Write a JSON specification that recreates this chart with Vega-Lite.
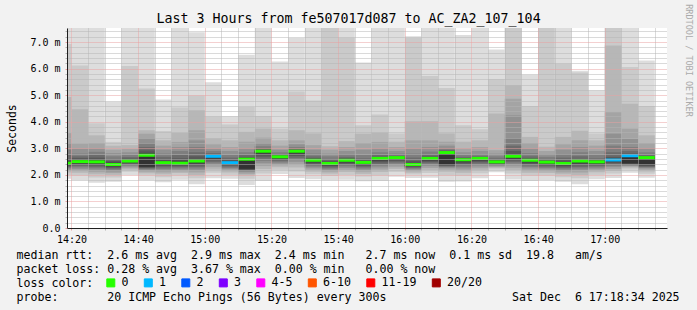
{
  "$schema": "https://vega.github.io/schema/vega-lite/v6.json",
  "width": 600,
  "height": 200,
  "autosize": "none",
  "padding": {"left": 67, "top": 28, "right": 30, "bottom": 82},
  "background": "#f2f2f2",
  "view": {"fill": "white", "stroke": null},
  "config": {"font": "DejaVu Sans Mono"},
  "title": {"text": "Last 3 Hours from fe507017d087 to AC_ZA2_107_104", "font": "DejaVu Sans Mono", "fontSize": 13.3, "fontWeight": "normal", "color": "black", "anchor": "middle", "dx": -18.5, "dy": 26, "offset": 4},
  "data": {"values": [
    {"t":"2025-12-06T14:15:00Z","t2":"2025-12-06T14:20:00Z","med":2.44,"loss":"0","p1":1.85,"p2":2.00,"p3":2.09,"p4":2.15,"p5":2.20,"p6":2.25,"p7":2.29,"p8":2.33,"p9":2.37,"p10":2.40,"p11":2.48,"p12":2.52,"p13":2.60,"p14":2.75,"p15":2.95,"p16":3.20,"p17":3.57,"p18":4.93,"p19":6.93,"p20":7.60},
    {"t":"2025-12-06T14:20:00Z","t2":"2025-12-06T14:25:00Z","med":2.50,"loss":"0","p1":1.80,"p2":1.98,"p3":2.08,"p4":2.15,"p5":2.22,"p6":2.28,"p7":2.33,"p8":2.37,"p9":2.42,"p10":2.46,"p11":2.55,"p12":2.58,"p13":2.63,"p14":2.70,"p15":2.80,"p16":2.99,"p17":3.18,"p18":4.47,"p19":6.12,"p20":7.60},
    {"t":"2025-12-06T14:25:00Z","t2":"2025-12-06T14:30:00Z","med":2.49,"loss":"0","p1":1.70,"p2":1.90,"p3":2.02,"p4":2.10,"p5":2.17,"p6":2.24,"p7":2.29,"p8":2.35,"p9":2.40,"p10":2.44,"p11":2.52,"p12":2.58,"p13":2.65,"p14":2.75,"p15":2.87,"p16":3.00,"p17":3.20,"p18":3.49,"p19":3.94,"p20":7.55},
    {"t":"2025-12-06T14:30:00Z","t2":"2025-12-06T14:35:00Z","med":2.39,"loss":"0","p1":1.74,"p2":1.90,"p3":2.00,"p4":2.07,"p5":2.13,"p6":2.18,"p7":2.23,"p8":2.27,"p9":2.31,"p10":2.35,"p11":2.42,"p12":2.47,"p13":2.52,"p14":2.60,"p15":2.70,"p16":2.82,"p17":2.95,"p18":3.10,"p19":3.24,"p20":4.75},
    {"t":"2025-12-06T14:35:00Z","t2":"2025-12-06T14:40:00Z","med":2.52,"loss":"0","p1":1.99,"p2":2.12,"p3":2.20,"p4":2.25,"p5":2.31,"p6":2.35,"p7":2.39,"p8":2.42,"p9":2.46,"p10":2.49,"p11":2.54,"p12":2.57,"p13":2.61,"p14":2.67,"p15":2.75,"p16":2.85,"p17":2.98,"p18":3.12,"p19":6.10,"p20":7.60},
    {"t":"2025-12-06T14:40:00Z","t2":"2025-12-06T14:45:00Z","med":2.74,"loss":"0","p1":1.80,"p2":1.98,"p3":2.06,"p4":2.12,"p5":2.17,"p6":2.21,"p7":2.24,"p8":2.27,"p9":2.29,"p10":2.31,"p11":2.78,"p12":2.83,"p13":2.92,"p14":3.05,"p15":3.20,"p16":3.38,"p17":3.55,"p18":3.68,"p19":5.25,"p20":7.60},
    {"t":"2025-12-06T14:45:00Z","t2":"2025-12-06T14:50:00Z","med":2.46,"loss":"0","p1":1.72,"p2":1.91,"p3":2.02,"p4":2.09,"p5":2.16,"p6":2.22,"p7":2.28,"p8":2.33,"p9":2.37,"p10":2.42,"p11":2.49,"p12":2.53,"p13":2.60,"p14":2.68,"p15":2.80,"p16":2.95,"p17":3.10,"p18":3.30,"p19":3.65,"p20":4.84},
    {"t":"2025-12-06T14:50:00Z","t2":"2025-12-06T14:55:00Z","med":2.44,"loss":"0","p1":1.82,"p2":1.98,"p3":2.07,"p4":2.13,"p5":2.19,"p6":2.24,"p7":2.29,"p8":2.33,"p9":2.37,"p10":2.40,"p11":2.48,"p12":2.54,"p13":2.62,"p14":2.75,"p15":2.90,"p16":3.05,"p17":3.24,"p18":3.58,"p19":4.54,"p20":7.60},
    {"t":"2025-12-06T14:55:00Z","t2":"2025-12-06T15:00:00Z","med":2.52,"loss":"0","p1":1.65,"p2":1.87,"p3":2.00,"p4":2.09,"p5":2.17,"p6":2.24,"p7":2.30,"p8":2.36,"p9":2.42,"p10":2.47,"p11":2.55,"p12":2.60,"p13":2.70,"p14":2.85,"p15":3.05,"p16":3.30,"p17":3.68,"p18":4.43,"p19":4.99,"p20":7.37},
    {"t":"2025-12-06T15:00:00Z","t2":"2025-12-06T15:05:00Z","med":2.70,"loss":"1","p1":1.87,"p2":2.08,"p3":2.20,"p4":2.29,"p5":2.37,"p6":2.43,"p7":2.49,"p8":2.55,"p9":2.60,"p10":2.65,"p11":2.72,"p12":2.74,"p13":2.77,"p14":2.82,"p15":2.90,"p16":3.00,"p17":3.15,"p18":3.37,"p19":4.20,"p20":5.49},
    {"t":"2025-12-06T15:05:00Z","t2":"2025-12-06T15:10:00Z","med":2.46,"loss":"1","p1":1.85,"p2":2.00,"p3":2.09,"p4":2.16,"p5":2.22,"p6":2.26,"p7":2.31,"p8":2.35,"p9":2.39,"p10":2.42,"p11":2.49,"p12":2.52,"p13":2.57,"p14":2.65,"p15":2.75,"p16":2.90,"p17":3.05,"p18":3.30,"p19":3.90,"p20":4.21},
    {"t":"2025-12-06T15:10:00Z","t2":"2025-12-06T15:15:00Z","med":2.59,"loss":"0","p1":1.62,"p2":1.85,"p3":1.97,"p4":2.04,"p5":2.10,"p6":2.14,"p7":2.17,"p8":2.19,"p9":2.21,"p10":2.23,"p11":2.61,"p12":2.63,"p13":2.68,"p14":2.75,"p15":2.85,"p16":3.00,"p17":3.25,"p18":3.62,"p19":4.56,"p20":6.52},
    {"t":"2025-12-06T15:15:00Z","t2":"2025-12-06T15:20:00Z","med":2.89,"loss":"0","p1":1.77,"p2":2.05,"p3":2.22,"p4":2.33,"p5":2.44,"p6":2.53,"p7":2.61,"p8":2.69,"p9":2.76,"p10":2.82,"p11":2.90,"p12":2.92,"p13":2.95,"p14":3.00,"p15":3.08,"p16":3.20,"p17":3.40,"p18":3.74,"p19":4.22,"p20":7.55},
    {"t":"2025-12-06T15:20:00Z","t2":"2025-12-06T15:25:00Z","med":2.68,"loss":"0","p1":2.03,"p2":2.19,"p3":2.29,"p4":2.36,"p5":2.42,"p6":2.47,"p7":2.52,"p8":2.56,"p9":2.60,"p10":2.64,"p11":2.69,"p12":2.71,"p13":2.74,"p14":2.78,"p15":2.85,"p16":2.95,"p17":3.10,"p18":3.30,"p19":3.74,"p20":6.27},
    {"t":"2025-12-06T15:25:00Z","t2":"2025-12-06T15:30:00Z","med":2.89,"loss":"0","p1":1.88,"p2":2.13,"p3":2.28,"p4":2.39,"p5":2.49,"p6":2.57,"p7":2.64,"p8":2.71,"p9":2.77,"p10":2.83,"p11":2.90,"p12":2.92,"p13":2.94,"p14":2.98,"p15":3.05,"p16":3.15,"p17":3.30,"p18":3.68,"p19":5.14,"p20":7.15},
    {"t":"2025-12-06T15:30:00Z","t2":"2025-12-06T15:35:00Z","med":2.55,"loss":"0","p1":1.84,"p2":2.02,"p3":2.12,"p4":2.20,"p5":2.27,"p6":2.32,"p7":2.37,"p8":2.42,"p9":2.46,"p10":2.51,"p11":2.57,"p12":2.59,"p13":2.63,"p14":2.70,"p15":2.80,"p16":2.95,"p17":3.12,"p18":3.56,"p19":4.80,"p20":7.60},
    {"t":"2025-12-06T15:35:00Z","t2":"2025-12-06T15:40:00Z","med":2.43,"loss":"0","p1":1.80,"p2":1.96,"p3":2.05,"p4":2.12,"p5":2.18,"p6":2.23,"p7":2.27,"p8":2.32,"p9":2.35,"p10":2.39,"p11":2.45,"p12":2.48,"p13":2.53,"p14":2.60,"p15":2.70,"p16":2.80,"p17":2.95,"p18":3.08,"p19":7.55,"p20":7.60},
    {"t":"2025-12-06T15:40:00Z","t2":"2025-12-06T15:45:00Z","med":2.55,"loss":"0","p1":1.82,"p2":2.00,"p3":2.11,"p4":2.19,"p5":2.26,"p6":2.32,"p7":2.37,"p8":2.42,"p9":2.46,"p10":2.51,"p11":2.56,"p12":2.58,"p13":2.62,"p14":2.68,"p15":2.78,"p16":2.90,"p17":3.05,"p18":3.27,"p19":7.16,"p20":7.60},
    {"t":"2025-12-06T15:45:00Z","t2":"2025-12-06T15:50:00Z","med":2.47,"loss":"0","p1":1.76,"p2":1.94,"p3":2.04,"p4":2.12,"p5":2.19,"p6":2.24,"p7":2.29,"p8":2.34,"p9":2.38,"p10":2.43,"p11":2.49,"p12":2.51,"p13":2.55,"p14":2.62,"p15":2.75,"p16":2.95,"p17":3.20,"p18":3.55,"p19":3.87,"p20":6.23},
    {"t":"2025-12-06T15:50:00Z","t2":"2025-12-06T15:55:00Z","med":2.62,"loss":"0","p1":1.77,"p2":1.98,"p3":2.11,"p4":2.20,"p5":2.28,"p6":2.35,"p7":2.41,"p8":2.47,"p9":2.52,"p10":2.57,"p11":2.63,"p12":2.65,"p13":2.68,"p14":2.75,"p15":2.85,"p16":3.00,"p17":3.24,"p18":3.59,"p19":4.27,"p20":7.60},
    {"t":"2025-12-06T15:55:00Z","t2":"2025-12-06T16:00:00Z","med":2.65,"loss":"0","p1":1.93,"p2":2.11,"p3":2.22,"p4":2.29,"p5":2.36,"p6":2.42,"p7":2.47,"p8":2.52,"p9":2.56,"p10":2.61,"p11":2.66,"p12":2.67,"p13":2.69,"p14":2.73,"p15":2.80,"p16":2.90,"p17":3.05,"p18":3.25,"p19":3.56,"p20":7.60},
    {"t":"2025-12-06T16:00:00Z","t2":"2025-12-06T16:05:00Z","med":2.39,"loss":"0","p1":1.88,"p2":2.01,"p3":2.08,"p4":2.14,"p5":2.19,"p6":2.23,"p7":2.26,"p8":2.30,"p9":2.33,"p10":2.36,"p11":2.41,"p12":2.45,"p13":2.53,"p14":2.65,"p15":2.80,"p16":3.00,"p17":3.30,"p18":4.02,"p19":7.15,"p20":7.22},
    {"t":"2025-12-06T16:05:00Z","t2":"2025-12-06T16:10:00Z","med":2.62,"loss":"0","p1":1.89,"p2":2.07,"p3":2.18,"p4":2.26,"p5":2.33,"p6":2.39,"p7":2.44,"p8":2.49,"p9":2.53,"p10":2.58,"p11":2.63,"p12":2.65,"p13":2.69,"p14":2.76,"p15":2.88,"p16":3.05,"p17":3.30,"p18":4.02,"p19":5.72,"p20":7.60},
    {"t":"2025-12-06T16:10:00Z","t2":"2025-12-06T16:15:00Z","med":2.84,"loss":"0","p1":1.74,"p2":1.98,"p3":2.12,"p4":2.20,"p5":2.26,"p6":2.30,"p7":2.33,"p8":2.35,"p9":2.37,"p10":2.39,"p11":2.86,"p12":2.87,"p13":2.90,"p14":2.94,"p15":3.00,"p16":3.10,"p17":3.25,"p18":3.56,"p19":5.27,"p20":7.60},
    {"t":"2025-12-06T16:15:00Z","t2":"2025-12-06T16:20:00Z","med":2.57,"loss":"0","p1":1.75,"p2":1.96,"p3":2.08,"p4":2.16,"p5":2.24,"p6":2.31,"p7":2.37,"p8":2.42,"p9":2.47,"p10":2.52,"p11":2.58,"p12":2.59,"p13":2.62,"p14":2.68,"p15":2.75,"p16":2.85,"p17":3.00,"p18":3.25,"p19":3.87,"p20":7.27},
    {"t":"2025-12-06T16:20:00Z","t2":"2025-12-06T16:25:00Z","med":2.62,"loss":"0","p1":1.87,"p2":2.06,"p3":2.17,"p4":2.25,"p5":2.32,"p6":2.38,"p7":2.43,"p8":2.49,"p9":2.53,"p10":2.58,"p11":2.63,"p12":2.64,"p13":2.66,"p14":2.70,"p15":2.78,"p16":2.90,"p17":3.05,"p18":3.30,"p19":3.72,"p20":7.60},
    {"t":"2025-12-06T16:25:00Z","t2":"2025-12-06T16:30:00Z","med":2.49,"loss":"0","p1":2.10,"p2":2.20,"p3":2.26,"p4":2.30,"p5":2.33,"p6":2.37,"p7":2.39,"p8":2.42,"p9":2.44,"p10":2.47,"p11":2.51,"p12":2.53,"p13":2.56,"p14":2.62,"p15":2.70,"p16":2.80,"p17":2.93,"p18":4.31,"p19":5.60,"p20":6.72},
    {"t":"2025-12-06T16:30:00Z","t2":"2025-12-06T16:35:00Z","med":2.70,"loss":"0","p1":1.83,"p2":2.05,"p3":2.18,"p4":2.27,"p5":2.35,"p6":2.42,"p7":2.48,"p8":2.54,"p9":2.60,"p10":2.65,"p11":2.73,"p12":2.78,"p13":2.90,"p14":3.10,"p15":3.38,"p16":4.24,"p17":4.87,"p18":5.37,"p19":7.55,"p20":7.60},
    {"t":"2025-12-06T16:35:00Z","t2":"2025-12-06T16:40:00Z","med":2.55,"loss":"0","p1":1.77,"p2":1.97,"p3":2.08,"p4":2.16,"p5":2.24,"p6":2.30,"p7":2.36,"p8":2.41,"p9":2.46,"p10":2.50,"p11":2.56,"p12":2.58,"p13":2.62,"p14":2.70,"p15":2.82,"p16":3.00,"p17":3.20,"p18":3.43,"p19":4.59,"p20":5.77},
    {"t":"2025-12-06T16:40:00Z","t2":"2025-12-06T16:45:00Z","med":2.48,"loss":"0","p1":1.80,"p2":1.97,"p3":2.07,"p4":2.14,"p5":2.21,"p6":2.26,"p7":2.31,"p8":2.36,"p9":2.40,"p10":2.44,"p11":2.50,"p12":2.51,"p13":2.54,"p14":2.60,"p15":2.68,"p16":2.78,"p17":2.90,"p18":3.06,"p19":7.55,"p20":7.60},
    {"t":"2025-12-06T16:45:00Z","t2":"2025-12-06T16:50:00Z","med":2.43,"loss":"0","p1":1.74,"p2":1.91,"p3":2.02,"p4":2.09,"p5":2.15,"p6":2.21,"p7":2.26,"p8":2.31,"p9":2.35,"p10":2.39,"p11":2.45,"p12":2.48,"p13":2.55,"p14":2.65,"p15":2.78,"p16":2.95,"p17":3.15,"p18":3.43,"p19":6.18,"p20":7.60},
    {"t":"2025-12-06T16:50:00Z","t2":"2025-12-06T16:55:00Z","med":2.52,"loss":"0","p1":1.65,"p2":1.87,"p3":2.00,"p4":2.09,"p5":2.17,"p6":2.24,"p7":2.30,"p8":2.36,"p9":2.42,"p10":2.47,"p11":2.54,"p12":2.55,"p13":2.60,"p14":2.70,"p15":2.85,"p16":3.05,"p17":3.30,"p18":3.66,"p19":5.85,"p20":5.92},
    {"t":"2025-12-06T16:55:00Z","t2":"2025-12-06T17:00:00Z","med":2.49,"loss":"0","p1":1.84,"p2":2.00,"p3":2.10,"p4":2.17,"p5":2.23,"p6":2.28,"p7":2.33,"p8":2.37,"p9":2.41,"p10":2.45,"p11":2.50,"p12":2.51,"p13":2.55,"p14":2.62,"p15":2.75,"p16":2.90,"p17":3.10,"p18":3.30,"p19":3.56,"p20":5.18},
    {"t":"2025-12-06T17:00:00Z","t2":"2025-12-06T17:05:00Z","med":2.56,"loss":"1","p1":1.88,"p2":2.05,"p3":2.15,"p4":2.22,"p5":2.29,"p6":2.34,"p7":2.39,"p8":2.44,"p9":2.48,"p10":2.52,"p11":2.57,"p12":2.60,"p13":2.68,"p14":2.85,"p15":3.10,"p16":3.55,"p17":4.36,"p18":6.87,"p19":7.55,"p20":7.60},
    {"t":"2025-12-06T17:05:00Z","t2":"2025-12-06T17:10:00Z","med":2.72,"loss":"1","p1":2.08,"p2":2.20,"p3":2.27,"p4":2.31,"p5":2.34,"p6":2.36,"p7":2.38,"p8":2.40,"p9":2.42,"p10":2.44,"p11":2.73,"p12":2.75,"p13":2.80,"p14":2.90,"p15":3.05,"p16":3.35,"p17":3.74,"p18":4.68,"p19":6.06,"p20":7.60},
    {"t":"2025-12-06T17:10:00Z","t2":"2025-12-06T17:15:00Z","med":2.65,"loss":"0","p1":1.89,"p2":2.04,"p3":2.13,"p4":2.19,"p5":2.24,"p6":2.27,"p7":2.30,"p8":2.33,"p9":2.36,"p10":2.40,"p11":2.66,"p12":2.67,"p13":2.70,"p14":2.75,"p15":2.85,"p16":3.00,"p17":3.20,"p18":3.49,"p19":4.59,"p20":6.31}
  ]},
  "encoding": {
    "x": {
      "field": "t", "type": "temporal",
      "scale": {"type": "utc", "domain": [1765030720000, 1765041520000]},
      "axis": {
        "orient": "bottom",
        "values": [1765030800000,1765031100000,1765031400000,1765031700000,1765032000000,1765032300000,1765032600000,1765032900000,1765033200000,1765033500000,1765033800000,1765034100000,1765034400000,1765034700000,1765035000000,1765035300000,1765035600000,1765035900000,1765036200000,1765036500000,1765036800000,1765037100000,1765037400000,1765037700000,1765038000000,1765038300000,1765038600000,1765038900000,1765039200000,1765039500000,1765039800000,1765040100000,1765040400000,1765040700000,1765041000000,1765041300000],
        "labelExpr": "datum.value % 1200000 === 0 ? utcFormat(datum.value, '%H:%M') : ''",
        "labelFont": "DejaVu Sans Mono", "labelFontSize": 10, "labelColor": "black",
        "labelPadding": 4, "labelFlush": false, "labelOverlap": false, "labelBound": false,
        "tickSize": 2,
        "tickColor": {"condition": {"test": "datum.value % 1200000 === 0", "value": "#e8a0a0"}, "value": "#b4b4b4"},
        "grid": true,
        "gridColor": {"condition": {"test": "datum.value % 1200000 === 0", "value": "#e8a0a0"}, "value": "#b4b4b4"},
        "gridDash": [1, 1],
        "domainColor": "#1f1f1f",
        "zindex": 1,
        "title": [
          "median rtt:\u00a0\u00a02.6 ms avg\u00a0\u00a02.9 ms max\u00a0\u00a02.4 ms min\u00a0\u00a0\u00a02.7 ms now\u00a0\u00a00.1 ms sd\u00a0\u00a019.8\u00a0\u00a0\u00a0am/s",
          "packet loss: 0.28 % avg\u00a0\u00a03.67 % max\u00a0\u00a00.00 % min\u00a0\u00a0\u00a00.00 % now",
          "loss color:",
          "probe:\u00a0\u00a0\u00a0\u00a0\u00a0\u00a0\u00a020 ICMP Echo Pings (56 Bytes) every 300s\u00a0\u00a0\u00a0\u00a0\u00a0\u00a0\u00a0\u00a0\u00a0\u00a0\u00a0\u00a0\u00a0\u00a0\u00a0\u00a0\u00a0\u00a0Sat Dec\u00a0\u00a06 17:18:34 2025"
        ],
        "titleFont": "DejaVu Sans Mono", "titleFontSize": 11.6, "titleFontWeight": "normal", "titleColor": "black",
        "titleAlign": "left", "titleX": -51, "titleY": 30, "titleBaseline": "alphabetic", "titleLineHeight": 14, "titleLimit": 2000
      }
    }
  },
  "layer": [
    {"mark": {"type": "point", "shape": "square", "filled": true, "opacity": 1, "stroke": "black", "strokeWidth": 1, "clip": true},
     "encoding": {
       "y": {"datum": -5, "type": "quantitative", "axis": null},
       "color": {"field": "loss", "type": "nominal",
         "scale": {"domain": ["0", "1", "2", "3", "4-5", "6-10", "11-19", "20/20"], "range": ["#26ff00", "#00b8ff", "#0059ff", "#7e00ff", "#ff00ff", "#ff5500", "#ff0000", "#a10000"]},
         "legend": {"orient": "none", "legendX": 38, "legendY": 249, "direction": "horizontal", "title": null, "padding": 0,
           "symbolType": "square", "symbolSize": 64, "symbolStrokeColor": "black", "symbolStrokeWidth": 1, "symbolOpacity": 1,
           "labelFont": "DejaVu Sans Mono", "labelFontSize": 11.6, "labelColor": "black", "labelOffset": 5, "columnPadding": 12.5}}}},
    {"mark": {"type": "bar", "color": "#dddddd", "clip": true},
     "encoding": {"x2": {"field": "t2"},
       "y": {"field": "p1", "type": "quantitative", "scale": {"domain": [0, 7.53], "nice": false, "zero": false},
         "axis": {
           "orient": "left",
           "values": [0,0.2,0.4,0.6,0.8,1,1.2,1.4,1.6,1.8,2,2.2,2.4,2.6,2.8,3,3.2,3.4,3.6,3.8,4,4.2,4.4,4.6,4.8,5,5.2,5.4,5.6,5.8,6,6.2,6.4,6.6,6.8,7,7.2,7.4],
           "labelExpr": "datum.value % 1 === 0 ? (datum.value === 0 ? '0.0' : format(datum.value, '.1f') + ' m') : ''",
           "labelFont": "DejaVu Sans Mono", "labelFontSize": 10, "labelColor": "black", "labelPadding": 5, "labelOverlap": false, "labelBound": false, "labelFlush": false,
           "tickSize": 2,
           "tickColor": {"condition": {"test": "datum.value % 1 === 0", "value": "#e8a0a0"}, "value": "#b4b4b4"},
           "grid": true,
           "gridColor": {"condition": {"test": "datum.value % 1 === 0", "value": "#e8a0a0"}, "value": "#b4b4b4"},
           "gridDash": [1, 1],
           "domainColor": "#1f1f1f",
           "zindex": 1,
           "title": "Seconds", "titleFont": "DejaVu Sans Mono", "titleFontSize": 11.5, "titleFontWeight": "normal", "titleColor": "black",
           "titleAngle": 270, "titleX": -52, "titleY": 100, "titleAlign": "center", "titleBaseline": "alphabetic"
         }},
       "y2": {"field": "p20"}}},
    {"mark": {"type": "bar", "color": "#cacaca", "clip": true}, "encoding": {"x2": {"field": "t2"}, "y": {"field": "p2", "type": "quantitative", "axis": null}, "y2": {"field": "p19"}}},
    {"mark": {"type": "bar", "color": "#b7b7b7", "clip": true}, "encoding": {"x2": {"field": "t2"}, "y": {"field": "p3", "type": "quantitative", "axis": null}, "y2": {"field": "p18"}}},
    {"mark": {"type": "bar", "color": "#a4a4a4", "clip": true}, "encoding": {"x2": {"field": "t2"}, "y": {"field": "p4", "type": "quantitative", "axis": null}, "y2": {"field": "p17"}}},
    {"mark": {"type": "bar", "color": "#919191", "clip": true}, "encoding": {"x2": {"field": "t2"}, "y": {"field": "p5", "type": "quantitative", "axis": null}, "y2": {"field": "p16"}}},
    {"mark": {"type": "bar", "color": "#7e7e7e", "clip": true}, "encoding": {"x2": {"field": "t2"}, "y": {"field": "p6", "type": "quantitative", "axis": null}, "y2": {"field": "p15"}}},
    {"mark": {"type": "bar", "color": "#6b6b6b", "clip": true}, "encoding": {"x2": {"field": "t2"}, "y": {"field": "p7", "type": "quantitative", "axis": null}, "y2": {"field": "p14"}}},
    {"mark": {"type": "bar", "color": "#585858", "clip": true}, "encoding": {"x2": {"field": "t2"}, "y": {"field": "p8", "type": "quantitative", "axis": null}, "y2": {"field": "p13"}}},
    {"mark": {"type": "bar", "color": "#454545", "clip": true}, "encoding": {"x2": {"field": "t2"}, "y": {"field": "p9", "type": "quantitative", "axis": null}, "y2": {"field": "p12"}}},
    {"mark": {"type": "bar", "color": "#323232", "clip": true}, "encoding": {"x2": {"field": "t2"}, "y": {"field": "p10", "type": "quantitative", "axis": null}, "y2": {"field": "p11"}}},
    {"mark": {"type": "rule", "strokeWidth": 3, "clip": true},
     "encoding": {"x2": {"field": "t2"},
       "y": {"field": "med", "type": "quantitative",
         "axis": {"orient": "right", "domain": false, "ticks": false, "labels": false, "grid": false,
           "title": "RRDTOOL / TOBI OETIKER", "titleAngle": 90, "titleFont": "DejaVu Sans Mono", "titleFontSize": 8.5, "titleFontWeight": "normal", "titleColor": "#aaaaaa",
           "titleX": 18, "titleY": 32, "titleAlign": "center", "titleBaseline": "alphabetic"}},
       "color": {"field": "loss", "type": "nominal", "legend": null}}},
    {"data": {"values": [{}]},
     "mark": {"type": "point", "shape": "triangle-right", "filled": true, "color": "#801f1f", "size": 30, "opacity": 1},
     "encoding": {"x": {"datum": 1765041577000, "type": "temporal"},
       "y": {"datum": 0, "type": "quantitative", "axis": null}}},
    {"data": {"values": [{}]},
     "mark": {"type": "point", "shape": "triangle-up", "filled": true, "color": "#801f1f", "size": 30, "opacity": 1},
     "encoding": {"x": {"datum": 1765030720000, "type": "temporal"},
       "y": {"datum": 7.7, "type": "quantitative", "axis": null}}}
  ],
  "resolve": {"axis": {"y": "independent"}}
}
